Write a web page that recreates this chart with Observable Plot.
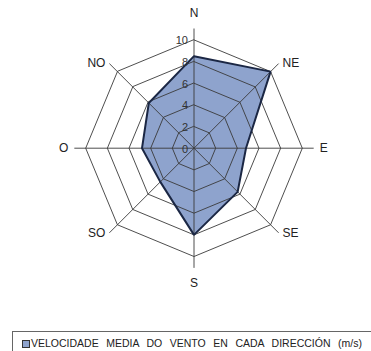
<!DOCTYPE html>
<html><head><meta charset="utf-8">
<script src="https://cdn.jsdelivr.net/npm/d3@7"></script>
<script src="https://cdn.jsdelivr.net/npm/@observablehq/plot@0.6"></script>
<style>
html,body{margin:0;padding:0;background:#fff;}
body{width:371px;height:351px;overflow:hidden;position:relative;font-family:"Liberation Sans",Arial,sans-serif;}
#chart svg{display:block;}
#legend{position:absolute;left:12px;top:331px;width:400px;height:40px;border:1px solid #666;box-sizing:border-box;color:#222;font-size:10.5px;}
#legend .sw{position:absolute;left:9px;top:8px;width:6px;height:6px;background:#8EA3CD;border:1px solid #333;}
#legend .tx{position:absolute;left:18px;top:5px;white-space:nowrap;}
</style></head><body>
<div id="chart"></div>
<div id="legend"><span class="sw"></span><span class="tx" id="legtext"></span></div>
<script>
const directions = ["N","NE","E","SE","S","SO","O","NO"];
const speeds = [8.5, 10.0, 4.8, 5.7, 8.0, 4.4, 4.8, 5.9];
const ringLevels = [2, 4, 6, 8, 10];
const tickValues = [0, 2, 4, 6, 8, 10];
const tickLabels = ["0", "2", "4", "6", "8", "10"];
const seriesName = "VELOCIDADE MEDIA DO VENTO EN CADA DIRECCIÓN (m/s)";

const spokeLen = 11.05;
const ang = i => i * Math.PI / 4;
const polar = (r, i) => ({x: r * Math.sin(ang(i)), y: r * Math.cos(ang(i))});

const poly = directions.map((d, i) => ({dir: d, ...polar(speeds[i], i)}));
const rings = ringLevels.flatMap(r => directions.map((d, i) => ({ring: r, ...polar(r, i)})));
const spokes = directions.map((d, i) => ({dir: d, ...polar(spokeLen, i)}));
const ticks = tickValues.map((v, k) => ({x: 0, y: v, label: tickLabels[k]}));
const labels = directions.map((d, i) => {
  const s = Math.sin(ang(i)), c = Math.cos(ang(i));
  const vertical = Math.abs(s) < 0.3;
  const p = polar(vertical ? 12.45 : spokeLen, i);
  return {dir: d, ...p,
    anchor: s > 0.3 ? "start" : s < -0.3 ? "end" : "middle",
    dx: vertical ? 0 : (Math.abs(c) < 0.3 ? 6 : 4) * Math.sign(s)};
});

const gridColor = "#3a3a3a";
const chart = Plot.plot({
  width: 371, height: 326, margin: 0,
  style: {fontFamily: "'Liberation Sans', Arial, sans-serif", background: "white"},
  x: {domain: [-10, 10], range: [85.2, 301.8], axis: null},
  y: {domain: [-10, 10], range: [256, 39.4], axis: null},
  marks: [
    Plot.line(poly, {x: "x", y: "y", curve: "linear-closed", fill: "#8EA3CD", stroke: "none"}),
    Plot.line(rings, {x: "x", y: "y", z: "ring", curve: "linear-closed", stroke: gridColor, strokeWidth: 0.9}),
    Plot.link(spokes, {x1: 0, y1: 0, x2: "x", y2: "y", stroke: gridColor, strokeWidth: 0.9}),
    Plot.line(poly, {x: "x", y: "y", curve: "linear-closed", stroke: "#1B2744", strokeWidth: 2, strokeLinejoin: "miter"}),
    Plot.text(ticks, {x: "x", y: "y", text: "label", textAnchor: "end", dx: -6, dy: 1, fontSize: 11, fill: "#333"}),
    ...labels.map(l => Plot.text([l], {x: "x", y: "y", text: "dir", textAnchor: l.anchor, dx: l.dx, fontSize: 12, fill: "#222"}))
  ]
});
document.getElementById("chart").append(chart);

const lt = document.getElementById("legtext");
lt.textContent = seriesName;
const natural = lt.getBoundingClientRect().width;
const target = 362 - lt.getBoundingClientRect().left;
const spaces = seriesName.split(" ").length - 1;
lt.style.wordSpacing = Math.max(0, (target - natural) / spaces) + "px";
</script>
</body></html>
